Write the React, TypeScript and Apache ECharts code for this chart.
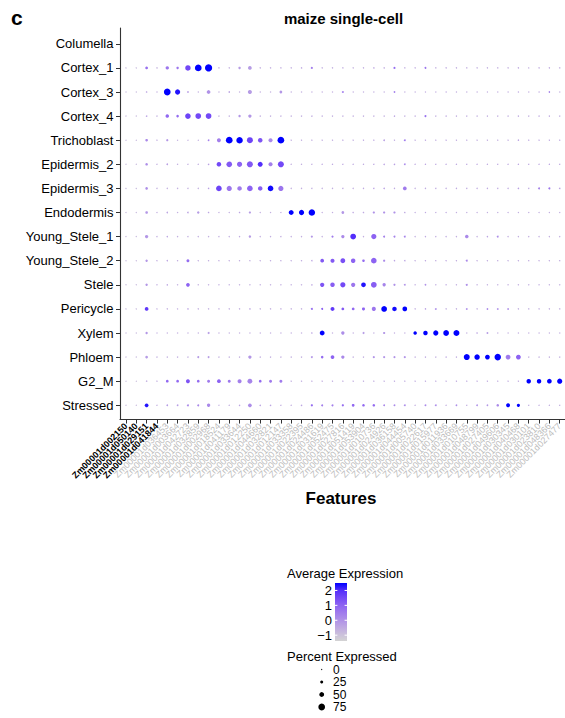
import React, { useEffect, useRef } from "react";
import * as echarts from "echarts";

// Cell types, top to bottom
const cellTypes = [
  "Columella", "Cortex_1", "Cortex_3", "Cortex_4", "Trichoblast", "Epidermis_2",
  "Epidermis_3", "Endodermis", "Young_Stele_1", "Young_Stele_2", "Stele",
  "Pericycle", "Xylem", "Phloem", "G2_M", "Stressed",
];

// Marker genes, left to right (the first ones are highlighted in bold)
const features = [
  "Zm00001d002150", "Zm00001d050140", "Zm00001d029151", "Zm00001d041844",
  "Zm00001d036453", "Zm00001d003664", "Zm00001d042723", "Zm00001d032859",
  "Zm00001d002968", "Zm00001d018524", "Zm00001d041179", "Zm00001d033644",
  "Zm00001d012250", "Zm00001d044660", "Zm00001d032821", "Zm00001d012147",
  "Zm00001d033358", "Zm00001d022395", "Zm00001d024486", "Zm00001d031619",
  "Zm00001d052475", "Zm00001d027816", "Zm00001d051419", "Zm00001d053904",
  "Zm00001d010736", "Zm00001d024926", "Zm00001d036158", "Zm00001d044454",
  "Zm00001d005740", "Zm00001d022617", "Zm00001d015977", "Zm00001d011936",
  "Zm00001d033669", "Zm00001d010755", "Zm00001d048799", "Zm00001d027405",
  "Zm00001d049606", "Zm00001d030345", "Zm00001d040468", "Zm00001d030101",
  "Zm00001d023810", "Zm00001d048366", "Zm00001d027477",
];
const boldFeatureCount = 4;

// Percent of cells expressing each gene (rows follow cellTypes)
const pctColumella = [0,0,0,0,0,0,0,0,0,0, 0,0,0,0,0,0,0,0,0,0, 0,0,0,0,0,0,0,0,0,0, 0,0,0,0,0,0,0,0,0,0, 0,0,0];
const pctCortex1 = [3,3,22,5,30,18,58,75,82,4, 4,18,35,4,4,4,4,5,15,4, 4,4,4,4,5,5,15,4,4,10, 4,4,4,4,4,4,4,4,4,3, 4,4,4];
const pctCortex3 = [3,3,5,4,75,55,8,4,35,4, 6,4,40,4,4,22,4,4,4,4, 4,10,4,4,4,4,8,4,4,4, 4,4,4,4,4,4,4,4,4,4, 4,6,4];
const pctCortex4 = [3,3,6,4,32,20,60,62,62,4, 4,18,30,4,4,4,4,4,5,4, 4,4,4,4,4,4,5,4,4,12, 4,4,4,4,4,4,4,4,4,4, 4,4,4];
const pctTrichoblast = [3,3,20,4,15,3,3,3,8,38, 75,72,65,45,40,75,4,4,4,4, 4,4,4,4,4,8,4,10,4,4, 4,4,4,4,4,4,4,4,5,4, 4,4,4];
const pctEpidermis2 = [3,3,20,4,8,4,4,4,6,45, 60,55,65,50,40,65,4,4,4,4, 4,4,4,4,4,5,6,8,4,4, 4,4,4,4,4,4,4,4,4,4, 4,4,4];
const pctEpidermis3 = [3,3,20,4,4,4,4,4,5,60, 55,45,60,45,60,55,4,4,4,4, 4,4,4,4,4,6,4,35,4,4, 4,4,4,4,4,4,4,4,6,4, 12,12,6];
const pctEndodermis = [3,3,20,4,6,4,6,18,5,4, 4,5,15,4,4,4,50,55,72,4, 4,22,5,5,15,15,15,5,4,4, 4,4,4,4,4,4,4,4,4,4, 4,4,4];
const pctYoungStele1 = [3,3,30,4,5,4,4,4,4,4, 4,4,18,4,4,4,4,4,15,4, 15,30,62,4,55,12,12,10,4,4, 4,4,4,32,4,5,10,4,4,4, 4,4,4];
const pctYoungStele2 = [3,3,18,4,5,4,25,4,4,4, 4,4,4,4,4,4,4,4,5,35, 40,50,45,20,60,15,5,5,4,4, 4,4,4,12,4,4,4,4,4,4, 4,4,4];
const pctStele = [3,3,18,4,5,4,35,4,4,4, 4,4,4,4,4,4,4,4,5,42, 45,55,42,48,62,30,15,10,4,8, 4,4,4,12,4,4,4,4,4,4, 4,4,4];
const pctPericycle = [3,3,35,3,4,3,5,4,4,4, 4,4,5,4,4,4,4,4,12,12, 38,22,22,25,40,62,45,48,4,5, 8,4,4,8,4,8,8,8,4,4, 4,4,4];
const pctXylem = [3,3,18,3,4,4,4,4,12,4, 4,4,4,4,4,4,4,4,5,50, 4,30,4,12,4,15,4,4,32,45, 55,62,65,4,5,10,4,4,4,4, 4,4,4];
const pctPhloem = [3,3,22,4,4,4,4,12,10,4, 4,4,30,4,4,4,4,4,10,20, 35,30,4,4,15,15,15,15,4,4, 4,4,4,65,58,50,72,50,50,4, 4,4,4];
const pctG2M = [2,2,5,4,22,22,38,22,25,35, 25,40,50,22,25,25,4,4,4,4, 4,4,4,4,4,4,4,4,4,4, 4,4,4,4,4,4,4,4,4,45, 45,48,55];
const pctStressed = [3,3,35,4,8,8,12,12,30,3, 4,5,35,6,6,4,4,6,15,12, 12,15,22,20,20,10,10,10,4,10, 10,4,8,4,8,8,20,38,28,4, 4,4,4];

// Scaled average expression (rows follow cellTypes)
const expColumella = [-1.3,-1.35,-1.3,-1.3,-1.35,-1.3,-1.3,-1.35,-1.3,-1.3, -1.3,-1.35,-1.3,-1.3,-1.3,-1.3,-1.35,-1.3,-1.3,-1.3, -1.3,-1.35,-1.3,-1.39,-1.3,-1.3,-1.3,-1.3,-1.35,-1.3, -1.3,-1.3,-1.3,-1.3,-1.35,-1.3,-1.3,-1.3,-1.3,-1.3, -1.3,-1.3,-1.3];
const expCortex1 = [-0.8,-0.8,0.7,-0.7,0.6,0.6,1.5,2.5,2.5,-0.6, -0.6,-0.2,-0.2,-0.6,-0.6,-0.6,-0.6,-0.5,0.5,-0.6, -0.6,-0.6,-0.7,-0.6,-0.5,-0.6,0.8,-0.6,-0.6,0.6, -0.6,-0.5,-0.6,-0.6,-0.6,-0.6,-0.6,-0.6,-0.5,-0.6, -0.5,-0.5,-0.6];
const expCortex3 = [-0.8,-0.8,-0.4,-0.6,2.5,2.3,-0.2,-0.6,0.0,-0.6, -0.4,-0.6,-0.2,-0.6,-0.6,-0.1,-0.6,-0.6,-0.6,-0.6, -0.6,0.6,-0.6,-0.6,-0.6,-0.6,0.4,-0.6,-0.6,-0.6, -0.6,-0.5,-0.6,-0.6,-0.6,-0.6,-0.6,-0.6,-0.5,-0.6, -0.5,0.3,-0.6];
const expCortex4 = [-0.8,-0.8,-0.3,-0.6,0.9,0.8,1.6,1.5,1.5,-0.6, -0.6,-0.1,-0.1,-0.6,-0.6,-0.6,-0.6,-0.6,-0.5,-0.6, -0.6,-0.6,-0.6,-0.6,-0.6,-0.6,-0.4,-0.6,-0.6,0.7, -0.6,-0.5,-0.6,-0.6,-0.6,-0.6,-0.6,-0.6,-0.5,-0.6, -0.5,-0.5,-0.6];
const expTrichoblast = [-0.8,-0.8,0.2,-0.6,-0.1,-0.6,-0.6,-0.6,0.4,0.4, 2.5,2.5,1.6,1.3,0.2,2.5,-0.6,-0.6,-0.6,-0.6, -0.6,-0.5,-0.6,-0.5,-0.5,-0.3,-0.6,0.6,-0.6,-0.5, -0.6,-0.5,-0.6,-0.6,-0.6,-0.6,-0.6,-0.6,-0.4,-0.5, -0.5,-0.5,-0.5];
const expEpidermis2 = [-0.8,-0.8,0.1,-0.6,-0.3,-0.6,-0.6,-0.6,-0.3,1.5, 1.2,1.0,1.2,2.0,0.4,1.5,-0.6,-0.6,-0.6,-0.5, -0.5,-0.5,-0.5,-0.5,-0.4,-0.3,-0.3,0.3,-0.5,-0.4, -0.5,-0.5,-0.5,-0.5,-0.5,-0.5,-0.5,-0.5,-0.4,-0.5, -0.5,-0.4,-0.5];
const expEpidermis3 = [-0.8,-0.8,0.1,-0.6,-0.6,-0.6,-0.6,-0.6,-0.3,1.6, 0.6,0.5,1.0,1.1,2.4,0.6,-0.6,-0.6,-0.6,-0.6, -0.6,-0.5,-0.6,-0.5,-0.3,-0.3,-0.5,0.5,-0.6,-0.5, -0.5,-0.5,-0.5,-0.5,-0.5,-0.5,-0.5,-0.5,-0.3,-0.5, 0.3,0.6,-0.3];
const expEndodermis = [-0.8,-0.8,-0.1,-0.6,-0.4,-0.6,-0.4,-0.2,-0.4,-0.6, -0.6,-0.4,-0.2,-0.6,-0.6,-0.6,2.5,2.5,2.5,-0.6, -0.6,-0.1,-0.5,-0.5,0.0,0.0,0.0,-0.5,-0.6,-0.5, -0.6,-0.5,-0.6,-0.6,-0.6,-0.6,-0.6,-0.6,-0.6,-0.6, -0.6,-0.6,-0.6];
const expYoungStele1 = [-0.8,-0.8,-0.1,-0.6,-0.4,-0.6,-0.6,-0.6,-0.6,-0.6, -0.6,-0.5,-0.2,-0.6,-0.6,-0.6,-0.6,-0.6,-0.1,-0.6, 0.5,0.2,2.0,-0.6,1.0,0.3,0.3,0.3,-0.6,-0.5, -0.6,-0.5,-0.6,0.2,-0.6,-0.4,0.1,-0.6,-0.6,-0.6, -0.6,-0.6,-0.6];
const expYoungStele2 = [-0.8,-0.8,-0.1,-0.6,-0.4,-0.6,0.8,-0.6,-0.6,-0.6, -0.6,-0.6,-0.6,-0.6,-0.6,-0.6,-0.6,-0.6,-0.4,1.2, 1.2,1.4,1.0,0.8,1.0,0.2,-0.4,-0.4,-0.6,-0.5, -0.6,-0.5,-0.6,0.2,-0.6,-0.6,-0.6,-0.6,-0.6,-0.6, -0.6,-0.6,-0.6];
const expStele = [-0.8,-0.8,-0.1,-0.6,-0.4,-0.6,1.0,-0.6,-0.6,-0.6, -0.6,-0.6,-0.6,-0.6,-0.6,-0.6,-0.6,-0.6,-0.4,1.3, 1.1,1.5,0.6,2.3,1.1,0.3,0.0,0.0,-0.6,0.0, -0.6,-0.5,-0.6,0.1,-0.6,-0.6,-0.6,-0.6,-0.6,-0.6, -0.6,-0.6,-0.6];
const expPericycle = [-0.8,-0.8,1.8,-0.6,-0.6,-0.6,-0.4,-0.6,-0.6,-0.6, -0.6,-0.6,-0.4,-0.6,-0.6,-0.6,-0.6,-0.6,0.8,1.0, 1.8,1.2,0.9,1.0,0.6,2.5,2.4,2.5,-0.6,-0.3, 0.2,-0.6,-0.6,0.2,-0.6,0.2,0.1,0.1,-0.6,-0.6, -0.6,-0.6,-0.6];
const expXylem = [-0.8,-0.8,-0.1,-0.6,-0.6,-0.6,-0.6,-0.6,-0.2,-0.6, -0.6,-0.6,-0.6,-0.6,-0.6,-0.6,-0.6,-0.6,-0.4,2.5, -0.6,0.1,-0.6,-0.2,-0.6,-0.1,-0.6,-0.6,2.5,2.5, 2.5,2.5,2.5,-0.6,-0.4,-0.2,-0.6,-0.6,-0.6,-0.6, -0.6,-0.6,-0.6];
const expPhloem = [-0.8,-0.8,-0.2,-0.6,-0.6,-0.6,-0.6,-0.2,-0.2,-0.6, -0.6,-0.6,-0.1,-0.6,-0.6,-0.6,-0.6,-0.6,0.0,0.8, 1.0,0.2,-0.6,-0.6,0.0,0.0,0.0,0.0,-0.6,-0.5, -0.6,-0.5,-0.6,2.5,2.5,2.5,2.5,0.5,1.0,-0.6, -0.6,-0.6,-0.6];
const expG2M = [-0.9,-0.9,-0.6,-0.6,0.9,0.9,1.3,0.8,0.5,1.0, 0.6,0.4,0.3,0.8,0.5,0.5,-0.6,-0.6,-0.6,-0.6, -0.6,-0.6,-0.6,-0.6,-0.6,-0.6,-0.6,-0.6,-0.6,-0.6, -0.6,-0.6,-0.6,-0.6,-0.6,-0.6,-0.6,-0.6,-0.6,2.5, 2.5,2.5,2.5];
const expStressed = [-0.8,-0.8,2.3,-0.6,-0.2,-0.2,0.2,0.2,0.2,-0.6, -0.6,-0.4,0.1,-0.4,-0.4,-0.6,-0.6,-0.4,0.8,0.4, 0.4,0.8,0.9,0.9,0.8,0.2,0.2,0.2,-0.6,0.2, 0.2,-0.6,0.1,-0.6,0.1,-0.1,0.2,2.5,2.5,-0.6, -0.6,-0.6,-0.6];

const percentRows = [
  pctColumella, pctCortex1, pctCortex3, pctCortex4, pctTrichoblast, pctEpidermis2,
  pctEpidermis3, pctEndodermis, pctYoungStele1, pctYoungStele2, pctStele,
  pctPericycle, pctXylem, pctPhloem, pctG2M, pctStressed,
];
const expressionRows = [
  expColumella, expCortex1, expCortex3, expCortex4, expTrichoblast, expEpidermis2,
  expEpidermis3, expEndodermis, expYoungStele1, expYoungStele2, expStele,
  expPericycle, expXylem, expPhloem, expG2M, expStressed,
];

// Colour scale: lightgrey -> blue (interpolated in Lab), limits of the colourbar
const colorLimits = [-1.39, 2.5];
const colorbarTicks = [-1, 0, 1, 2];
const colorStops = [
  "#D3D3D3", "#CABEDC", "#BDA6E2", "#AE8FE8", "#9E78ED",
  "#8B61F2", "#7248F6", "#522DFB", "#0000FF",
];
const sizeBreaks = [0, 25, 50, 75];

const FONT = "'Liberation Sans', Arial, Helvetica, sans-serif";
const dotDiameter = (pct: number) => 1.1 + pct * 0.075;

export default function App() {
  const ref = useRef<HTMLDivElement>(null);

  useEffect(() => {
    if (!ref.current) return;
    const chart = echarts.init(ref.current, undefined, { renderer: "svg" });

    const points: number[][] = [];
    percentRows.forEach((row, r) => {
      row.forEach((pct, c) => {
        if (pct > 0) points.push([c, r, pct, expressionRows[r][c]]);
      });
    });

    // legend geometry
    const barX = 335;
    const barW = 12;
    const barTop = 583;
    const barBottom = 641;
    const valToY = (v: number) =>
      barBottom - ((v - colorLimits[0]) / (colorLimits[1] - colorLimits[0])) * (barBottom - barTop);
    const sizeRowsY = [669.5, 682, 694.5, 707];

    const graphic: any[] = [
      { type: "text", x: 11, y: 7, style: { text: "c", font: `bold 21px ${FONT}`, fill: "#000" } },
      {
        type: "text", x: 343.5, y: 18,
        style: { text: "maize single-cell", font: `bold 15px ${FONT}`, fill: "#000", align: "center", verticalAlign: "middle" },
      },
      {
        type: "text", x: 341, y: 498,
        style: { text: "Features", font: `bold 17px ${FONT}`, fill: "#000", align: "center", verticalAlign: "middle" },
      },
      {
        type: "text", x: 287, y: 573,
        style: { text: "Average Expression", font: `13px ${FONT}`, fill: "#000", align: "left", verticalAlign: "middle" },
      },
      {
        type: "rect",
        shape: { x: barX, y: barTop, width: barW, height: barBottom - barTop },
        style: {
          fill: {
            type: "linear", x: 0, y: 1, x2: 0, y2: 0,
            colorStops: colorStops.map((c, i) => ({ offset: i / (colorStops.length - 1), color: c })),
          },
        },
      },
      {
        type: "text", x: 287, y: 656.5,
        style: { text: "Percent Expressed", font: `13px ${FONT}`, fill: "#000", align: "left", verticalAlign: "middle" },
      },
    ];

    colorbarTicks.forEach((v) => {
      const y = valToY(v);
      graphic.push({
        type: "text", x: 332, y,
        style: { text: v < 0 ? `\u2212${Math.abs(v)}` : String(v), font: `13px ${FONT}`, fill: "#000", align: "right", verticalAlign: "middle" },
      });
      graphic.push({ type: "line", shape: { x1: barX, y1: y, x2: barX + 2.4, y2: y }, style: { stroke: "#fff", lineWidth: 1 } });
      graphic.push({ type: "line", shape: { x1: barX + barW - 2.4, y1: y, x2: barX + barW, y2: y }, style: { stroke: "#fff", lineWidth: 1 } });
    });

    sizeBreaks.forEach((p, i) => {
      graphic.push({
        type: "circle",
        shape: { cx: 321.7, cy: sizeRowsY[i], r: dotDiameter(p) / 2 },
        style: { fill: "#000" },
      });
      graphic.push({
        type: "text", x: 333, y: sizeRowsY[i],
        style: { text: String(p), font: `12px ${FONT}`, fill: "#000", align: "left", verticalAlign: "middle" },
      });
    });

    const tickStyle = { color: "#333", width: 1 };
    const lineStyle = { color: "#333", width: 1.1 };

    chart.setOption({
      animation: false,
      textStyle: { fontFamily: FONT },
      grid: [
        { left: 120.8, top: 31.75, width: 445.05, height: 385.6 },
        { left: 120, top: 28, width: 448, height: 391.5 },
      ],
      xAxis: [
        {
          type: "category",
          gridIndex: 0,
          data: features,
          offset: 2.2,
          axisLine: { show: false },
          axisTick: { show: true, alignWithLabel: true, length: 4, lineStyle: tickStyle },
          axisLabel: {
            interval: 0,
            rotate: 45,
            margin: 5,
            formatter: (value: string, index: number) =>
              index < boldFeatureCount ? `{b|${value}}` : `{g|${value}}`,
            rich: {
              b: { fontWeight: "bold", color: "#000", fontSize: 9, fontFamily: FONT },
              g: { color: "#BDBDBD", fontSize: 9, fontFamily: FONT },
            },
          },
          splitLine: { show: false },
        },
        {
          type: "value", gridIndex: 1, min: 0, max: 1,
          axisLine: { show: true, lineStyle },
          axisTick: { show: false }, axisLabel: { show: false }, splitLine: { show: false },
        },
      ],
      yAxis: [
        {
          type: "category",
          gridIndex: 0,
          data: cellTypes,
          inverse: true,
          offset: 0.8,
          axisLine: { show: false },
          axisTick: { show: true, alignWithLabel: true, length: 4, lineStyle: tickStyle },
          axisLabel: { fontSize: 13, color: "#000", margin: 6.5, fontFamily: FONT },
          splitLine: { show: false },
        },
        {
          type: "value", gridIndex: 1, min: 0, max: 1,
          axisLine: { show: true, lineStyle },
          axisTick: { show: false }, axisLabel: { show: false }, splitLine: { show: false },
        },
      ],
      visualMap: {
        show: false,
        type: "continuous",
        seriesIndex: 0,
        dimension: 3,
        min: colorLimits[0],
        max: colorLimits[1],
        inRange: { color: colorStops },
      },
      series: [
        {
          type: "scatter",
          xAxisIndex: 0,
          yAxisIndex: 0,
          symbol: "circle",
          symbolSize: (val: number[]) => dotDiameter(val[2]),
          data: points,
          itemStyle: { opacity: 1 },
          emphasis: { disabled: true },
        },
      ],
      graphic,
    });

    return () => chart.dispose();
  }, []);

  return (
    <div
      ref={ref}
      style={{ position: "fixed", left: 0, top: 0, width: 565, height: 718, background: "#fff" }}
    />
  );
}
